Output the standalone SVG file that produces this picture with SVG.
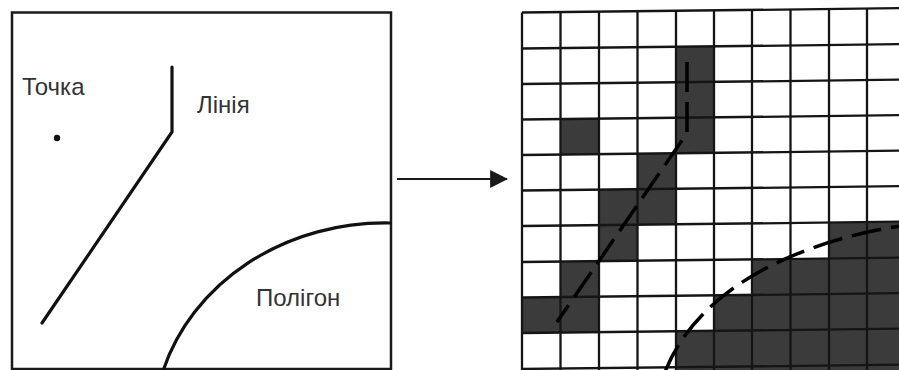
<svg xmlns="http://www.w3.org/2000/svg" width="899" height="370" viewBox="0 0 899 370">
<style>
.frame{fill:none;stroke:#1a1a1a;stroke-width:2.5}
.geom{fill:none;stroke:#111;stroke-width:3.2;stroke-linecap:round;stroke-linejoin:miter}
.lbl{font-family:"Liberation Sans",Arial,sans-serif;font-size:24px;fill:#333}
.cell{fill:#3b3b3b}
.grid{stroke:#151515;stroke-width:2.3}
.dash{fill:none;stroke:#000;stroke-width:3.5;stroke-dasharray:30 10}
</style>
<defs>
<marker id="ah" markerWidth="18" markerHeight="18" viewBox="0 0 16 16" refX="15" refY="8" orient="auto" markerUnits="userSpaceOnUse">
<path d="M0,0 L16,8 L0,16 Z" fill="#1a1a1a"/>
</marker>
</defs>
<rect width="899" height="370" fill="#fff"/>

<g id="vector-panel">
<rect class="frame" x="12" y="12.5" width="379" height="356.5"/>
<circle cx="57" cy="138" r="3.2" fill="#111"/>
<polyline class="geom" points="172,67 172,132 42,323"/>
<path class="geom" d="M163,371 A231.4,207 0 0 1 390,223"/>
<text class="lbl" x="22" y="95">Точка</text>
<text class="lbl" x="197" y="113">Лінія</text>
<text class="lbl" x="256" y="306">Полігон</text>
</g>

<g id="raster-panel">
<g transform="translate(522,0) skewY(-0.65) translate(-522,0)">
<g id="cells">
<rect class="cell" x="676" y="48.5" width="38" height="35.5"/>
<rect class="cell" x="676" y="84" width="38" height="35.5"/>
<rect class="cell" x="560.5" y="119.5" width="38.5" height="35.5"/>
<rect class="cell" x="676" y="119.5" width="38" height="35.5"/>
<rect class="cell" x="637.5" y="155" width="38.5" height="35.5"/>
<rect class="cell" x="599" y="190.5" width="77" height="35.5"/>
<rect class="cell" x="599" y="226" width="38.5" height="36"/>
<rect class="cell" x="829" y="226" width="80" height="36"/>
<rect class="cell" x="560.5" y="262" width="38.5" height="35.5"/>
<rect class="cell" x="752" y="262" width="157" height="35.5"/>
<rect class="cell" x="522" y="297.5" width="77" height="35.5"/>
<rect class="cell" x="714" y="297.5" width="195" height="35.5"/>
<rect class="cell" x="676" y="333" width="233" height="42"/>
</g>
<g id="grid-lines" class="grid">
<line x1="522" y1="12.5" x2="522" y2="375"/>
<line x1="560.5" y1="12.5" x2="560.5" y2="375"/>
<line x1="599" y1="12.5" x2="599" y2="375"/>
<line x1="637.5" y1="12.5" x2="637.5" y2="375"/>
<line x1="676" y1="12.5" x2="676" y2="375"/>
<line x1="714" y1="12.5" x2="714" y2="375"/>
<line x1="752" y1="12.5" x2="752" y2="375"/>
<line x1="790.5" y1="12.5" x2="790.5" y2="375"/>
<line x1="829" y1="12.5" x2="829" y2="375"/>
<line x1="867" y1="12.5" x2="867" y2="375"/>
<line x1="522" y1="12.5" x2="909" y2="12.5"/>
<line x1="522" y1="48.5" x2="909" y2="48.5"/>
<line x1="522" y1="84" x2="909" y2="84"/>
<line x1="522" y1="119.5" x2="909" y2="119.5"/>
<line x1="522" y1="155" x2="909" y2="155"/>
<line x1="522" y1="190.5" x2="909" y2="190.5"/>
<line x1="522" y1="226" x2="909" y2="226"/>
<line x1="522" y1="262" x2="909" y2="262"/>
<line x1="522" y1="297.5" x2="909" y2="297.5"/>
<line x1="522" y1="333" x2="909" y2="333"/>
<line x1="522" y1="369" x2="909" y2="369"/>
</g>
</g>
<polyline class="dash" points="687,62 687,133 557,322"/>
<path class="dash" d="M665,372 C696.5,291 792,243 900,226"/>
</g>

<g id="connectors">
<line x1="397" y1="179" x2="507" y2="179" stroke="#1a1a1a" stroke-width="2.2" marker-end="url(#ah)"/>
</g>
</svg>
